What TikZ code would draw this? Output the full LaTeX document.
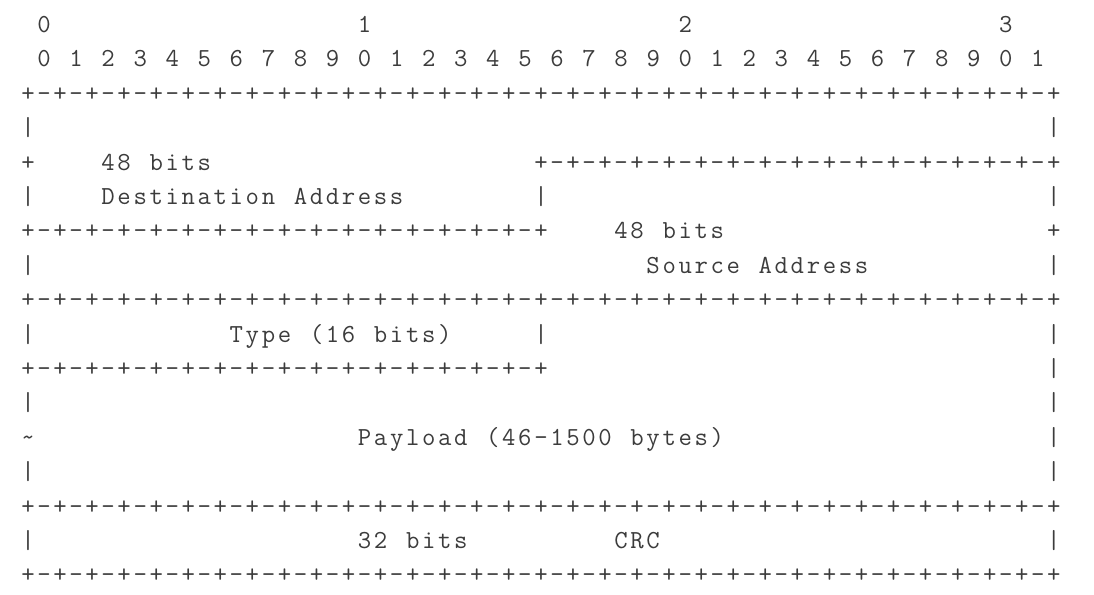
\documentclass[tikz,border=0pt]{standalone}
\usepackage{fontspec}
\usepackage{tikz}

\definecolor{inkgray}{HTML}{3C3C3C}

% one character per fixed cell
\newcommand\cellw{8.015pt}
\def\mono#1{\monostep#1\relax}
\def\monostep#1{\ifx\relax#1\else\makebox[\cellw]{#1}\expandafter\monostep\fi}
\newcommand\border[1]{\foreach\k in {1,...,#1}{\mono{+-}}\mono{+}}

\tikzset{ascii/.style={inner sep=0pt,outer sep=0pt,anchor=base west,text=inkgray,
  font=\ttfamily\fontsize{13}{13}\selectfont}}

\begin{document}
\begin{tikzpicture}[x=8.015pt,y=-17.2pt]
  \useasboundingbox (-1.2477,-0.9448) rectangle (67.0,16.352);

  % bit ruler
  \foreach \t in {0,...,3}
    \node[ascii] (tens\t) at (20*\t+1,0) {\mono{\t}};
  \foreach \b in {0,...,31}{
    \pgfmathtruncatemacro\d{mod(\b,10)}
    \node[ascii] (bit\b) at (2*\b+1,1) {\mono{\d}};
  }

  % separators
  \node[ascii] (top)    at (0,2)  {\border{32}};
  \node[ascii] (dstend) at (32,4) {\border{16}};
  \node[ascii] (srcbeg) at (0,6)  {\border{16}};
  \node[ascii] (mid)    at (0,8)  {\border{32}};
  \node[ascii] (typend) at (0,10) {\border{16}};
  \node[ascii] (payend) at (0,14) {\border{32}};
  \node[ascii] (bottom) at (0,16) {\border{32}};

  % side marks
  \foreach \r/\c in {3/0,3/64,5/0,5/32,5/64,7/0,7/64,9/0,9/32,9/64,
                     10/64,11/0,11/64,12/64,13/0,13/64,15/0,15/64}
    \node[ascii] (pipe\r-\c) at (\c,\r) {\mono{|}};
  \node[ascii] (plus4)  at (0,4)  {\mono{+}};
  \node[ascii] (plus6)  at (64,6) {\mono{+}};
  \node[ascii] (tilde)  at (0,12) {\mono{\textasciitilde}};

  % fields
  \node[ascii] (dstlen) at (5,4)   {\mono{48~bits}};
  \node[ascii] (dst)    at (5,5)   {\mono{Destination~Address}};
  \node[ascii] (srclen) at (37,6)  {\mono{48~bits}};
  \node[ascii] (src)    at (39,7)  {\mono{Source~Address}};
  \node[ascii] (type)   at (13,9)  {\mono{Type~(16~bits)}};
  \node[ascii] (pay)    at (21,12) {\mono{Payload~(46-1500~bytes)}};
  \node[ascii] (crclen) at (21,15) {\mono{32~bits}};
  \node[ascii] (crc)    at (37,15) {\mono{CRC}};
\end{tikzpicture}
\end{document}
